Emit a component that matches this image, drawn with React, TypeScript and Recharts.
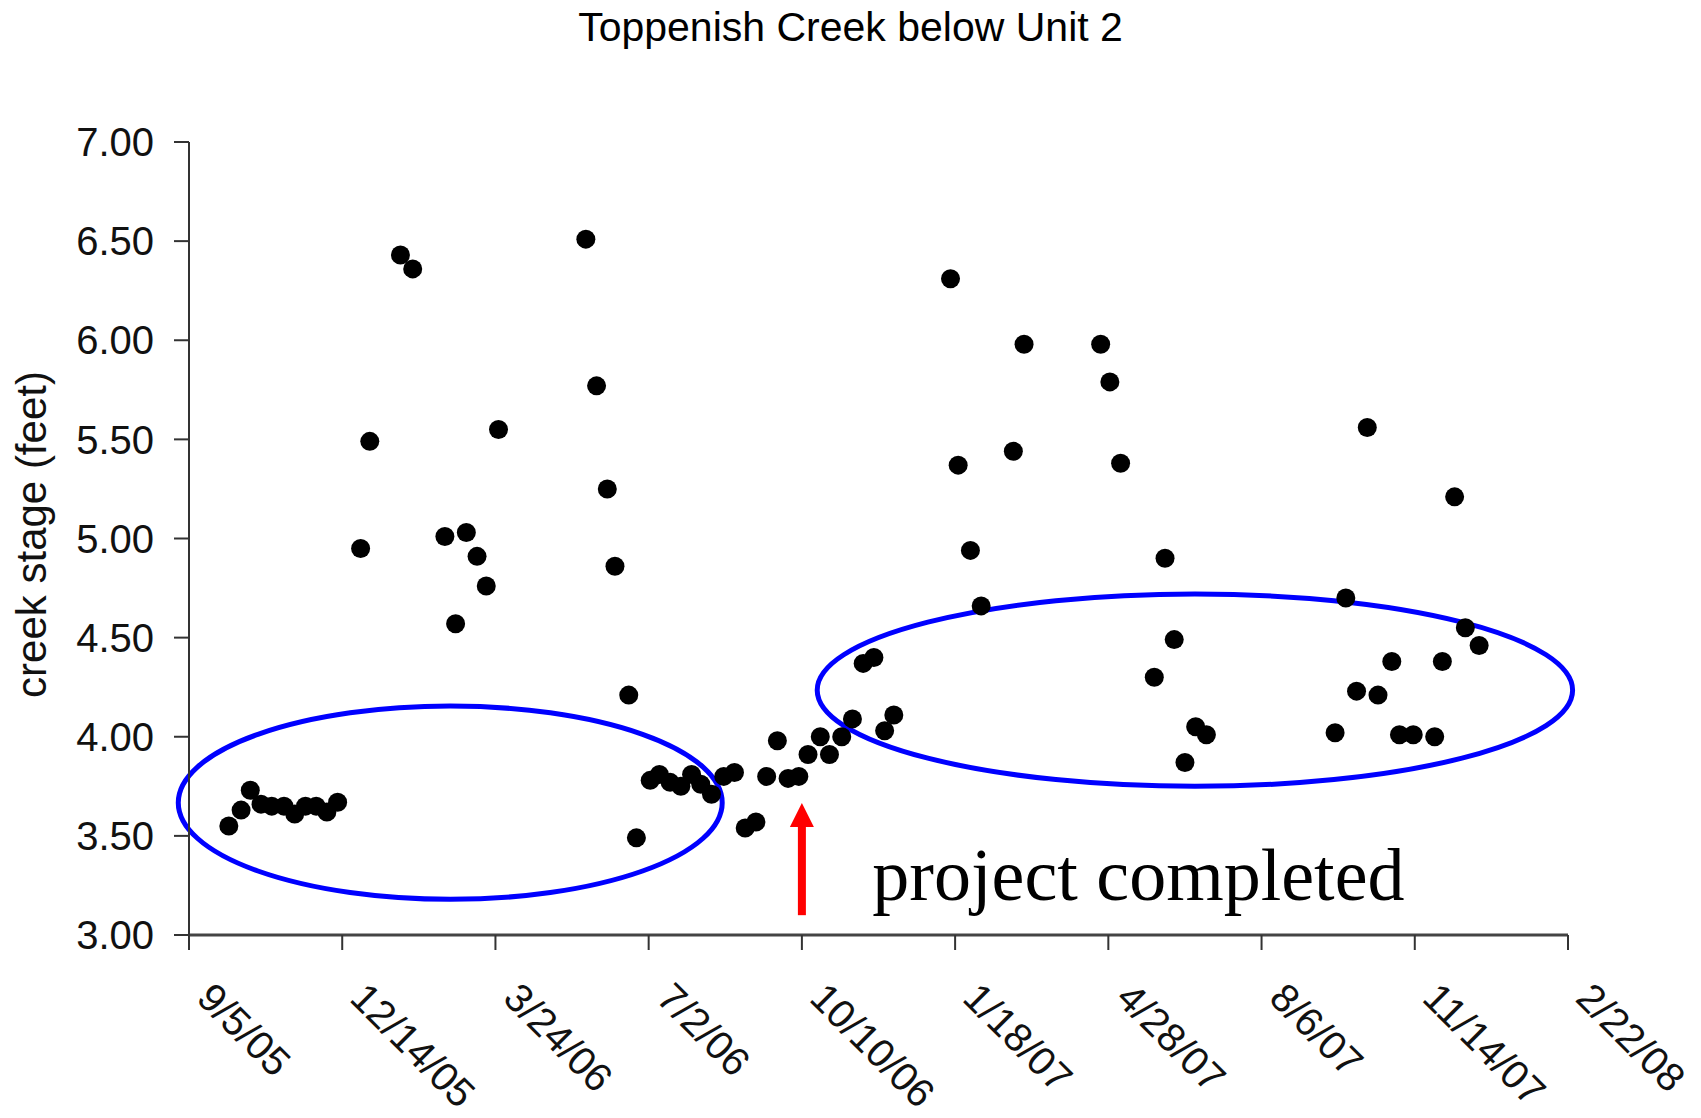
import React from 'react'
import { ScatterChart, Scatter, XAxis, YAxis, ReferenceArea, ReferenceLine, ReferenceDot } from 'recharts'

const dates = [
  '10/1/05', '10/9/05', '10/15/05', '10/22/05', '10/29/05', '11/6/05', '11/13/05', '11/20/05', '11/27/05', '12/4/05',
  '12/11/05', '12/26/05', '1/1/06', '1/21/06', '1/29/06', '2/19/06', '2/26/06', '3/5/06', '3/12/06', '3/18/06',
  '3/26/06', '5/22/06', '5/29/06', '6/5/06', '6/10/06', '6/19/06', '6/24/06', '7/3/06', '7/9/06', '7/16/06',
  '7/23/06', '7/30/06', '8/5/06', '8/12/06', '8/20/06', '8/27/06', '9/3/06', '9/10/06', '9/17/06', '9/24/06',
  '10/1/06', '10/8/06', '10/14/06', '10/22/06', '10/28/06', '11/5/06', '11/12/06', '11/19/06', '11/26/06', '12/3/06',
  '12/9/06', '1/15/07', '1/20/07', '1/28/07', '2/4/07', '2/25/07', '3/4/07', '4/23/07', '4/29/07', '5/6/07',
  '5/28/07', '6/4/07', '6/10/07', '6/17/07', '6/24/07', '7/1/07', '9/23/07', '9/30/07', '10/7/07', '10/14/07',
  '10/21/07', '10/30/07', '11/4/07', '11/13/07', '11/27/07', '12/2/07', '12/10/07', '12/17/07', '12/26/07',
]

const stage = [
  3.55, 3.63, 3.73, 3.66, 3.65, 3.65, 3.61, 3.65, 3.65, 3.62,
  3.67, 4.95, 5.49, 6.43, 6.36, 5.01, 4.57, 5.03, 4.91, 4.76,
  5.55, 6.51, 5.77, 5.25, 4.86, 4.21, 3.49, 3.78, 3.81, 3.77,
  3.75, 3.81, 3.76, 3.71, 3.80, 3.82, 3.54, 3.57, 3.80, 3.98,
  3.79, 3.80, 3.91, 4.00, 3.91, 4.00, 4.09, 4.37, 4.40, 4.03,
  4.11, 6.31, 5.37, 4.94, 4.66, 5.44, 5.98, 5.98, 5.79, 5.38,
  4.30, 4.90, 4.49, 3.87, 4.05, 4.01, 4.02, 4.70, 4.23, 5.56,
  4.21, 4.38, 4.01, 4.01, 4.00, 4.38, 5.21, 4.55, 4.46,
]

const xTickLabels = ['9/5/05', '12/14/05', '3/24/06', '7/2/06', '10/10/06', '1/18/07', '4/28/07', '8/6/07', '11/14/07', '2/22/08']
const yTicks = [3, 3.5, 4, 4.5, 5, 5.5, 6, 6.5, 7]

// excel-style day serial from m/d/yy
const toSerial = (s: string) => {
  const [m, d, y] = s.split('/').map(Number)
  return Date.UTC(2000 + y, m - 1, d) / 86400000 + 25569
}

const data = dates.map((d, i) => ({ x: toSerial(d), y: stage[i] }))
const xTicks = xTickLabels.map(toSerial)

const FONT = '"Liberation Sans", Arial, sans-serif'

const XTick = (props: any) => {
  const { x, y, payload } = props
  const idx = xTicks.indexOf(payload.value)
  return (
    <text
      transform={`translate(${x + 6},${y + 48}) rotate(45)`}
      textAnchor="start"
      fontFamily={FONT}
      fontSize={40}
      fill="#111"
    >
      {xTickLabels[idx]}
    </text>
  )
}

const Dot = (props: any) => <circle cx={props.cx} cy={props.cy} r={9.5} fill="#000" />

const EllipseShape = (props: any) => (
  <ellipse
    cx={props.x + props.width / 2}
    cy={props.y + props.height / 2}
    rx={props.width / 2}
    ry={props.height / 2}
    fill="none"
    stroke="#0000ff"
    strokeWidth={5}
  />
)

const ArrowShape = (props: any) => {
  const { x1, y1, y2 } = props
  const top = Math.min(y1, y2)
  const bottom = Math.max(y1, y2)
  return (
    <g>
      <rect x={x1 - 4} y={top + 22} width={8} height={bottom - top - 22} fill="#ff0000" />
      <polygon points={`${x1},${top} ${x1 - 12},${top + 24} ${x1 + 12},${top + 24}`} fill="#ff0000" />
    </g>
  )
}

const NoteShape = (props: any) => (
  <text x={props.cx} y={props.cy} fontFamily='"Liberation Serif", "Times New Roman", serif' fontSize={74} fill="#000">
    project completed
  </text>
)

export default function App() {
  return (
    <div style={{ position: 'absolute', left: 0, top: 0, width: 1701, height: 1118, background: '#fff' }}>
      <div
        style={{
          position: 'absolute', top: 3, left: 0, width: 1701, textAlign: 'center',
          fontFamily: FONT, fontSize: 41, lineHeight: '48px', color: '#000',
        }}
      >
        Toppenish Creek below Unit 2
      </div>
      <ScatterChart width={1701} height={1118} margin={{ top: 142, right: 133, bottom: 0, left: 0 }}>
        <XAxis
          type="number"
          dataKey="x"
          domain={[xTicks[0], xTicks[xTicks.length - 1]]}
          ticks={xTicks}
          interval={0}
          height={183}
          tickSize={15}
          tick={<XTick />}
          axisLine={{ stroke: '#444', strokeWidth: 3 }}
          tickLine={{ stroke: '#333', strokeWidth: 2 }}
        />
        <YAxis
          type="number"
          dataKey="y"
          domain={[3, 7]}
          ticks={yTicks}
          interval={0}
          width={189}
          tickSize={15}
          tickMargin={20}
          tickFormatter={(v: number) => v.toFixed(2)}
          tick={{ fontFamily: FONT, fontSize: 40, fill: '#111' }}
          axisLine={{ stroke: '#333', strokeWidth: 2 }}
          tickLine={{ stroke: '#333', strokeWidth: 2 }}
          label={{
            content: (p: any) => {
              const vb = p.viewBox
              return (
                <text
                  transform={`translate(31,${vb.y + vb.height / 2 - 4}) rotate(-90)`}
                  textAnchor="middle"
                  dominantBaseline="central"
                  fontFamily={FONT}
                  fontSize={42}
                  fill="#111"
                >
                  creek stage (feet)
                </text>
              )
            },
          }}
        />
        <Scatter data={data} shape={<Dot />} isAnimationActive={false} />
        <ReferenceArea x1={38593} x2={38948} y1={3.18} y2={4.155} ifOverflow="visible" shape={<EllipseShape />} />
        <ReferenceArea x1={39010} x2={39503} y1={3.75} y2={4.72} ifOverflow="visible" shape={<EllipseShape />} />
        <ReferenceLine
          segment={[{ x: 39000, y: 3.1 }, { x: 39000, y: 3.666 }]}
          ifOverflow="visible"
          shape={<ArrowShape />}
        />
        <ReferenceDot x={39046} y={3.175} ifOverflow="visible" shape={<NoteShape />} />
      </ScatterChart>
    </div>
  )
}
